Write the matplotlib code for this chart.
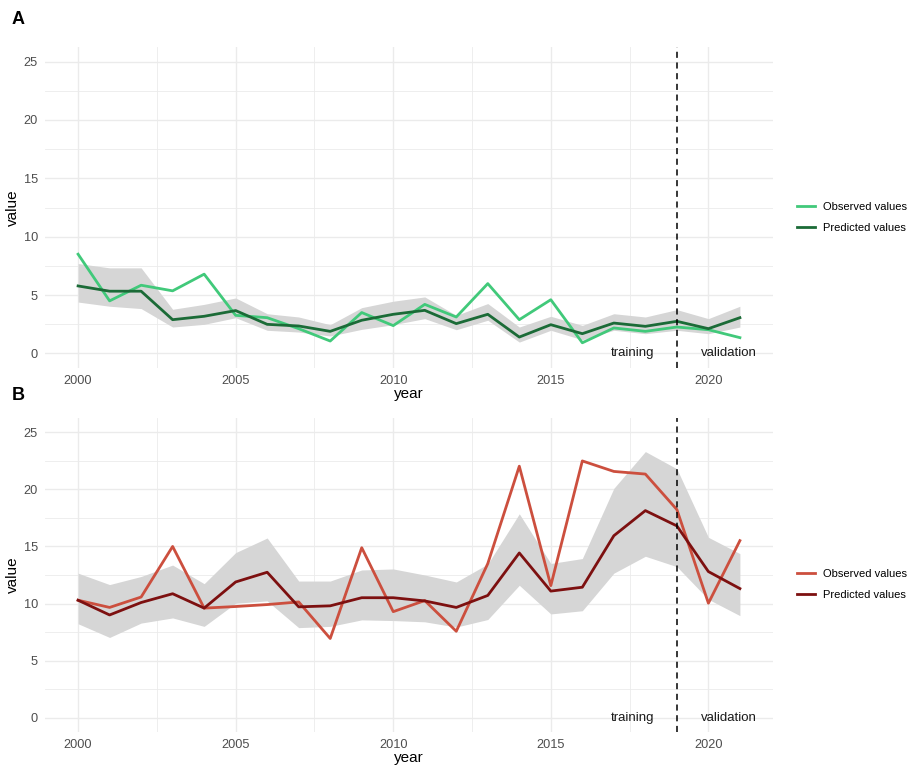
import numpy as np
import matplotlib
matplotlib.use("Agg")
import matplotlib.pyplot as plt
from matplotlib.lines import Line2D

plt.rcParams["font.family"] = ["Liberation Sans", "DejaVu Sans"]

# ---------------- data ----------------
years = list(range(2000, 2022))
split_year = 2019

obs_a = [8.5, 4.5, 5.84, 5.36, 6.79, 3.26, 3.06, 2.12, 1.06, 3.5, 2.38, 4.2,
         3.12, 5.98, 2.89, 4.6, 0.91, 2.18, 1.89, 2.26, 2.03, 1.35]
pred_a = [5.78, 5.33, 5.33, 2.89, 3.18, 3.67, 2.49, 2.35, 1.89, 2.84, 3.35, 3.69,
          2.55, 3.35, 1.4, 2.46, 1.69, 2.6, 2.32, 2.75, 2.12, 3.06]
hi_a = [7.7, 7.33, 7.33, 3.78, 4.2, 4.75, 3.4, 3.12, 2.46, 3.92, 4.47, 4.84,
        3.26, 4.27, 2.26, 3.18, 2.4, 3.4, 3.12, 3.75, 2.98, 4.04]
lo_a = [4.4, 4.04, 3.84, 2.26, 2.49, 3.06, 1.98, 1.83, 1.49, 2.06, 2.46, 2.98,
        2.03, 2.84, 0.97, 1.98, 1.17, 1.98, 1.69, 1.98, 1.69, 2.26]

obs_b = [10.29, 9.66, 10.57, 15.0, 9.6, 9.74, 9.91, 10.14, 6.94, 14.89, 9.29, 10.26,
         7.57, 13.5, 22.03, 11.57, 22.49, 21.57, 21.34, 18.23, 10.03, 15.51]
pred_b = [10.29, 9.0, 10.09, 10.86, 9.6, 11.89, 12.74, 9.71, 9.8, 10.51, 10.51, 10.23,
          9.66, 10.71, 14.43, 11.09, 11.43, 15.94, 18.14, 16.8, 12.8, 11.31]
hi_b = [12.66, 11.66, 12.37, 13.37, 11.74, 14.46, 15.74, 11.97, 11.97, 12.94, 13.03, 12.5,
        11.89, 13.46, 17.86, 13.51, 13.94, 20.09, 23.31, 21.8, 15.8, 14.37]
lo_b = [8.23, 7.03, 8.29, 8.74, 8.0, 10.03, 10.23, 7.89, 8.0, 8.57, 8.51, 8.4,
        7.94, 8.6, 11.6, 9.09, 9.37, 12.66, 14.14, 13.23, 10.37, 8.94]

legend_labels = ["Observed values", "Predicted values"]
# ---------------------------------------------------------------

GRID = "#ebebeb"
TICK = "#4d4d4d"

fig = plt.figure(figsize=(9.09, 7.66), dpi=100)
ax_a = fig.add_axes([45 / 909, 1 - 368 / 766, 728 / 909, 321 / 766])
ax_b = fig.add_axes([45 / 909, 1 - 732 / 766, 728 / 909, 314 / 766])

panels = [
    (ax_a, obs_a, pred_a, lo_a, hi_a, "#41c97a", "#1b6b37", "A", 20, 0.469),
    (ax_b, obs_b, pred_b, lo_b, hi_b, "#cc4f3e", "#7d1010", "B", 395, 0.47),
]

for ax, obs, pred, lo, hi, c_obs, c_pred, tag, tag_y, leg_y in panels:
    ax.fill_between(years, lo, hi, color="#d6d6d6", lw=0, zorder=1)
    ax.plot(years, obs, color=c_obs, lw=2.0, zorder=3)
    ax.plot(years, pred, color=c_pred, lw=2.0, zorder=4)
    ax.axvline(split_year, color="black", lw=1.1, ls=(0, (4, 3)), zorder=5)
    ax.text(2017.6, 0, "training", ha="center", va="center", fontsize=9.5, color="#1a1a1a")
    ax.text(2020.65, 0, "validation", ha="center", va="center", fontsize=9.5, color="#1a1a1a")

    ax.set_xlim(1998.95, 2022.05)
    ax.set_ylim(-1.25, 26.25)
    ax.set_xticks([2000, 2005, 2010, 2015, 2020])
    ax.set_xticks(np.arange(2002.5, 2022, 5), minor=True)
    ax.set_yticks([0, 5, 10, 15, 20, 25])
    ax.set_yticks(np.arange(2.5, 26, 5), minor=True)
    ax.grid(which="major", color=GRID, lw=1.0)
    ax.grid(which="minor", color=GRID, lw=0.6)
    ax.set_axisbelow(True)
    for s in ax.spines.values():
        s.set_visible(False)
    ax.tick_params(which="both", length=0, labelsize=9.2, labelcolor=TICK)
    ax.tick_params(axis="x", pad=5)
    ax.tick_params(axis="y", pad=5)
    ax.set_xlabel("year", fontsize=11, labelpad=0)
    ax.set_ylabel("value", fontsize=11, labelpad=3)

    handles = [Line2D([], [], color=c_obs, lw=2.0), Line2D([], [], color=c_pred, lw=2.0)]
    ax.legend(handles, legend_labels, loc="center left", bbox_to_anchor=(1.033, leg_y),
              frameon=False, fontsize=8.0, handlelength=1.6, handletextpad=0.7,
              labelspacing=0.95, borderpad=0, borderaxespad=0)

    fig.text(12 / 909, 1 - tag_y / 766, tag, fontsize=13, fontweight="bold", va="center")

fig.savefig("out.png", dpi=100)
